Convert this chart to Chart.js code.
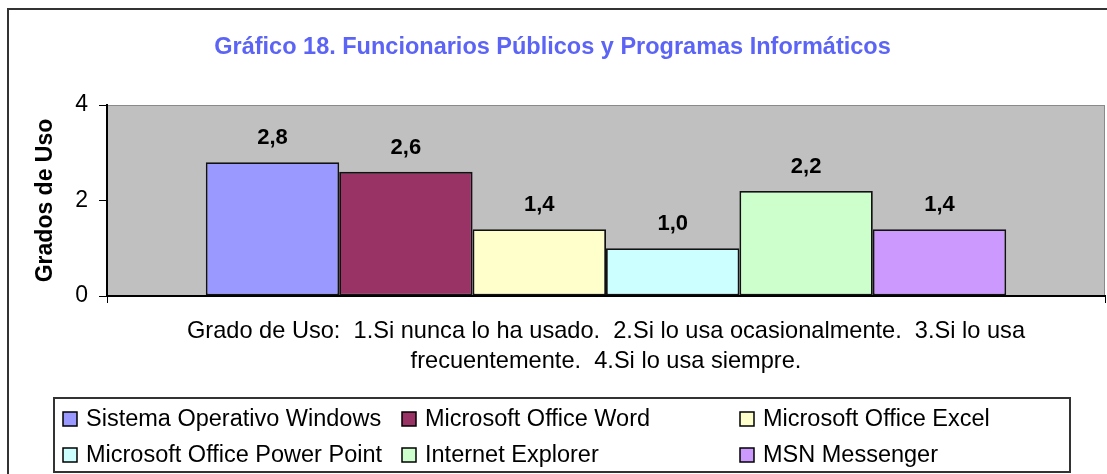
<!DOCTYPE html>
<html>
<head>
<meta charset="utf-8">
<script src="https://cdn.jsdelivr.net/npm/chart.js@4/dist/chart.umd.min.js"></script>
<style>
  html, body { margin: 0; padding: 0; background: #fff; }
  canvas { display: block; }
</style>
</head>
<body>
<canvas id="chart_uso" width="1107" height="474"></canvas>
<script>
var categories = [''];
var programas = [
  'Sistema Operativo Windows',
  'Microsoft Office Word',
  'Microsoft Office Excel',
  'Microsoft Office Power Point',
  'Internet Explorer',
  'MSN Messenger'
];
var gradoUso = [2.8, 2.6, 1.4, 1.0, 2.2, 1.4];
var colores = ['#9999FF', '#993366', '#FFFFCC', '#CCFFFF', '#CCFFCC', '#CC99FF'];
var notaEje = [
  'Grado de Uso:  1.Si nunca lo ha usado.  2.Si lo usa ocasionalmente.  3.Si lo usa',
  'frecuentemente.  4.Si lo usa siempre.'
];

function coma(v) { return v.toFixed(1).replace('.', ','); }

// marco, fondo gris del area de trazado
var fondo = {
  id: 'fondo',
  beforeDraw: function(chart) {
    var ctx = chart.ctx, a = chart.chartArea;
    ctx.save();
    ctx.strokeStyle = '#333';
    ctx.lineWidth = 2;
    ctx.strokeRect(8, 9, 1120, 500);
    ctx.fillStyle = '#C0C0C0';
    ctx.fillRect(a.left, a.top, a.right - a.left, a.bottom - a.top);
    ctx.strokeStyle = '#8a8a8a';
    ctx.lineWidth = 1;
    ctx.strokeRect(a.left + 0.5, a.top + 0.5, a.right - a.left - 1, a.bottom - a.top);
    ctx.restore();
  }
};

// etiquetas de valor sobre las barras
var valores = {
  id: 'valores',
  afterDatasetsDraw: function(chart) {
    var ctx = chart.ctx;
    ctx.save();
    ctx.font = 'bold 22px "Liberation Sans", Arial, sans-serif';
    ctx.fillStyle = '#000';
    ctx.textAlign = 'center';
    ctx.textBaseline = 'middle';
    chart.data.datasets.forEach(function(ds, i) {
      chart.getDatasetMeta(i).data.forEach(function(bar, j) {
        ctx.fillText(coma(ds.data[j]), bar.x, bar.y - 24);
      });
    });
    ctx.restore();
  }
};

// leyenda en recuadro, tres columnas
var leyenda = {
  id: 'leyenda',
  afterDraw: function(chart) {
    var ctx = chart.ctx;
    var x0 = 54, y0 = 398, x1 = 1070, y1 = 472;
    ctx.save();
    ctx.fillStyle = '#fff';
    ctx.fillRect(x0, y0, x1 - x0, y1 - y0);
    ctx.strokeStyle = '#333';
    ctx.lineWidth = 2;
    ctx.strokeRect(x0, y0, x1 - x0, y1 - y0);
    ctx.font = '23.5px "Liberation Sans", Arial, sans-serif';
    ctx.textBaseline = 'middle';
    ctx.textAlign = 'left';
    var colX = [63, 402, 740], rowY = [419, 455];
    chart.data.datasets.forEach(function(ds, i) {
      var x = colX[i % 3], y = rowY[Math.floor(i / 3)];
      ctx.fillStyle = ds.backgroundColor;
      ctx.fillRect(x, y - 7, 14, 14);
      ctx.strokeStyle = '#000';
      ctx.lineWidth = 1.5;
      ctx.strokeRect(x, y - 7, 14, 14);
      ctx.fillStyle = '#000';
      ctx.fillText(ds.label, x + 23, y + 1);
    });
    ctx.restore();
  }
};

var datasets = programas.map(function(nombre, i) {
  return {
    label: nombre,
    data: [gradoUso[i]],
    backgroundColor: colores[i],
    borderColor: '#111',
    borderWidth: 1.8,
    borderSkipped: false,
    categoryPercentage: 0.802,
    barPercentage: 1.0
  };
});

var config = {
  type: 'bar',
  data: { labels: categories, datasets: datasets },
  options: {
    responsive: false,
    devicePixelRatio: 1,
    animation: false,
    layout: { padding: { top: 0, left: 0, right: 2, bottom: 98 } },
    plugins: {
      legend: { display: false },
      tooltip: { enabled: false },
      title: {
        display: true,
        text: 'Gráfico 18. Funcionarios Públicos y Programas Informáticos',
        color: '#5c64f5',
        font: { family: '"Liberation Sans", Arial, sans-serif', size: 23.5, weight: 'bold', lineHeight: 1.2 },
        padding: { top: 33, bottom: 43.8 }
      }
    },
    scales: {
      x: {
        grid: { display: true, drawOnChartArea: false, drawTicks: true, tickLength: 7, color: '#000', offset: true },
        border: { color: '#000', width: 2 },
        ticks: { display: false },
        title: {
          display: true,
          text: notaEje,
          color: '#000',
          font: { family: '"Liberation Sans Narrow", "Liberation Sans", Arial, sans-serif', size: 23.6, lineHeight: 1.27 },
          padding: 0
        },
        afterFit: function(s) { s.height = 80; }
      },
      y: {
        min: 0,
        max: 4,
        ticks: { stepSize: 2, color: '#000', padding: 11, font: { family: '"Liberation Sans", Arial, sans-serif', size: 23 } },
        grid: { drawOnChartArea: false, drawTicks: true, tickLength: 8, color: '#000' },
        border: { color: '#000', width: 2 },
        title: {
          display: true,
          text: 'Grados de Uso',
          color: '#000',
          font: { family: '"Liberation Sans", Arial, sans-serif', size: 23, weight: 'bold', lineHeight: 1.2 },
          padding: { top: 32, bottom: 0 }
        },
        afterFit: function(s) { s.width = 107; }
      }
    }
  },
  plugins: [fondo, valores, leyenda]
};

new Chart(document.getElementById('chart_uso'), config);
</script>
</body>
</html>
